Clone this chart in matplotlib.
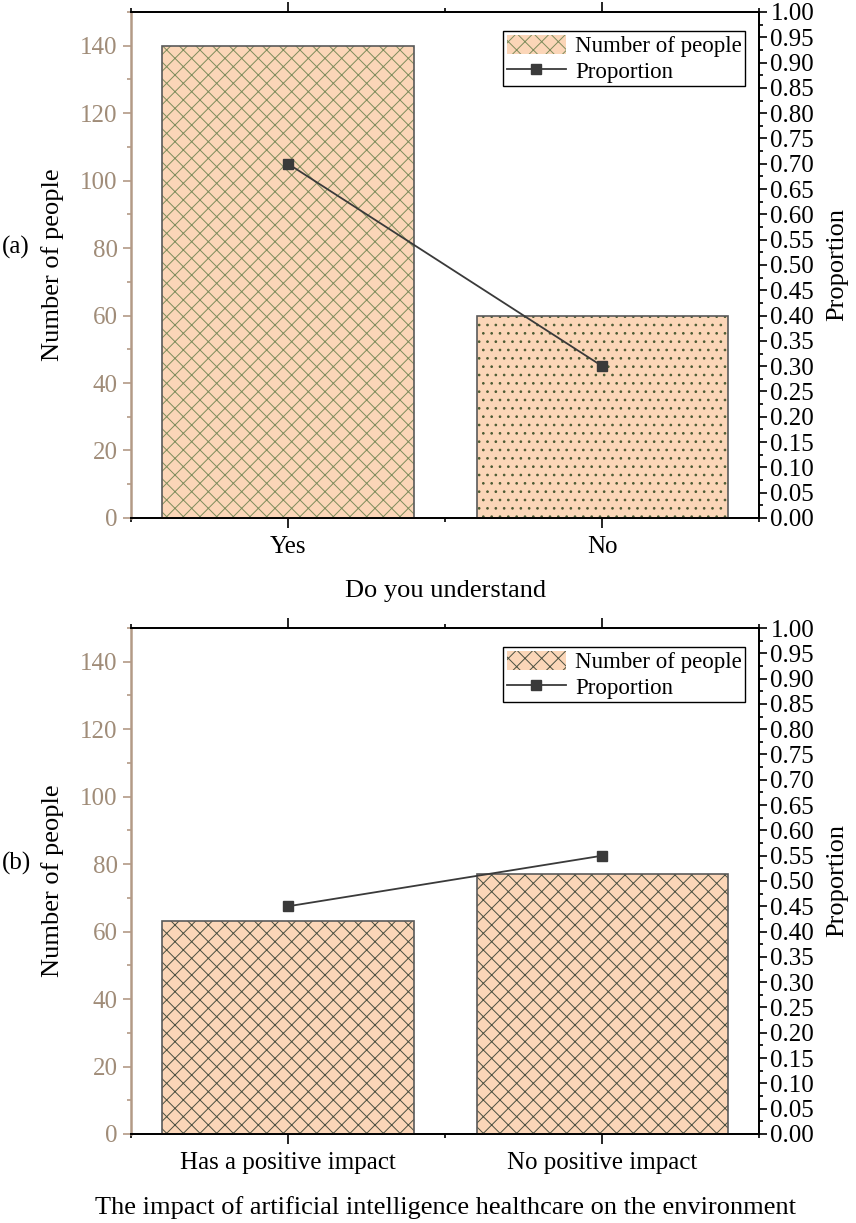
import numpy as np
import matplotlib
matplotlib.use('Agg')
import matplotlib.pyplot as plt
from matplotlib.ticker import MultipleLocator, FormatStrFormatter

plt.rcParams['font.family'] = ['Liberation Serif', 'DejaVu Serif']
plt.rcParams['hatch.linewidth'] = 0.7

# panel (a)
cats_a = ['Yes', 'No']
people_a = [140, 60]
prop_a = [0.70, 0.30]
xlabel_a = 'Do you understand'

# panel (b)
cats_b = ['Has a positive impact', 'No positive impact']
people_b = [63, 77]
prop_b = [0.45, 0.55]
xlabel_b = 'The impact of artificial intelligence healthcare on the environment'

FACE = '#fbd6b8'
LEFT_COL = '#b39a86'
LEFT_TXT = '#a08c78'
LINE_COL = '#3a3a3a'


def panel(ax, cats, people, prop, xlabel, tag, hatches, hcols):
    x = np.arange(len(cats))
    bars = []
    for i in range(len(cats)):
        b = ax.bar(x[i], people[i], width=0.8, color=FACE, edgecolor=hcols[i],
                   hatch=hatches[i], linewidth=0, zorder=2)
        ax.bar(x[i], people[i], width=0.8, fill=False, edgecolor='#5a5a5a',
               linewidth=1.2, zorder=3)
        bars.append(b)
    ax.set_xlim(-0.5, 1.5)
    ax.set_ylim(0, 150)
    ax.set_xticks(x)
    ax.set_xticklabels(cats, fontsize=18)
    ax.xaxis.set_minor_locator(MultipleLocator(0.5))
    ax.yaxis.set_major_locator(MultipleLocator(20))
    ax.yaxis.set_minor_locator(MultipleLocator(10))
    ax.tick_params(axis='y', which='both', colors=LEFT_COL, labelcolor=LEFT_TXT,
                   labelsize=18, width=1.2)
    ax.tick_params(axis='y', which='major', length=6)
    ax.tick_params(axis='y', which='minor', length=3)
    ax.tick_params(axis='x', which='major', length=7, width=1.2, top=True,
                   direction='out', pad=6)
    ax.tick_params(axis='x', which='minor', length=3, width=1.2, top=True)
    ax.set_xlabel(xlabel, fontsize=19, labelpad=16)
    ax.set_ylabel('Number of people', fontsize=19, labelpad=12)
    ax.spines['left'].set_color(LEFT_COL)
    ax.spines['left'].set_linewidth(1.8)
    for s in ['top', 'bottom', 'right']:
        ax.spines[s].set_linewidth(1.3)
    ax.text(-0.205, 0.535, tag, transform=ax.transAxes, fontsize=18,
            va='center', ha='left')

    ax2 = ax.twinx()
    ln, = ax2.plot(x, prop, color=LINE_COL, lw=1.3, marker='s', ms=7,
                   label='Proportion')
    ax2.set_ylim(0, 1.0)
    ax2.yaxis.set_major_locator(MultipleLocator(0.05))
    ax2.yaxis.set_minor_locator(MultipleLocator(0.025))
    ax2.yaxis.set_major_formatter(FormatStrFormatter('%.2f'))
    ax2.tick_params(axis='y', which='major', length=6, width=1.2, labelsize=18,
                    pad=2)
    ax2.tick_params(axis='y', which='minor', length=3, width=1.2)
    ax2.set_ylabel('Proportion', fontsize=19, labelpad=9)
    ax2.spines['left'].set_visible(False)
    for s in ['top', 'bottom', 'right']:
        ax2.spines[s].set_linewidth(1.3)
    bars[0].set_label('Number of people')
    ax2.legend(handles=[bars[0], ln], loc='upper right',
               bbox_to_anchor=(0.978, 0.962), fontsize=16.5, frameon=True,
               fancybox=False, edgecolor='black', framealpha=1,
               borderpad=0.15, labelspacing=0.15, handlelength=2.6,
               handleheight=0.9, handletextpad=0.4, borderaxespad=0)
    return ax2


fig = plt.figure(figsize=(8.56, 12.23), dpi=100)
ax_a = fig.add_axes([0.153, 0.5765, 0.734, 0.4137])
ax_b = fig.add_axes([0.153, 0.0728, 0.734, 0.4137])

panel(ax_a, cats_a, people_a, prop_a, xlabel_a, '(a)', ['xx', '..'],
      ['#7d8c5c', '#4b5a32'])
panel(ax_b, cats_b, people_b, prop_b, xlabel_b, '(b)', ['xx', 'xx'],
      ['#4a5040', '#4a5040'])

fig.savefig('out.png', dpi=100)
